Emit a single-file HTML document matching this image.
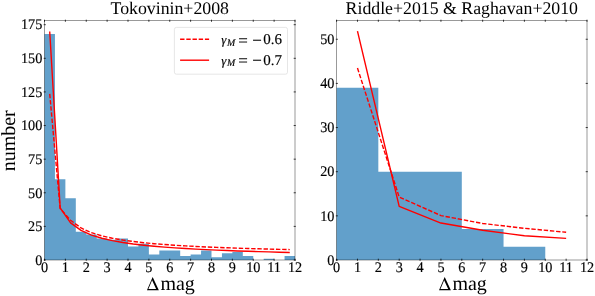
<!DOCTYPE html><html><head><meta charset="utf-8"><style>html,body{margin:0;padding:0;background:#fff;}svg{display:block}text{font-family:"Liberation Serif",serif;fill:#000;text-rendering:geometricPrecision}.t{filter:grayscale(1)}.t text{stroke:#000;stroke-width:0.16px}.t text.nb{stroke:none}</style></head><body>
<svg width="595" height="296" viewBox="0 0 595 296">
<rect x="0" y="0" width="595" height="296" fill="#fff"/>
<path d="M44.50,260.00V34.11H54.94V260.00ZM54.94,260.00V179.32H65.38V260.00ZM65.38,260.00V198.15H75.81V260.00ZM75.81,260.00V231.76H86.25V260.00ZM86.25,260.00V234.45H96.69V260.00ZM96.69,260.00V238.49H107.12V260.00ZM107.12,260.00V239.83H117.56V260.00ZM117.56,260.00V238.49H128.00V260.00ZM128.00,260.00V246.55H138.44V260.00ZM138.44,260.00V243.86H148.88V260.00ZM148.88,260.00V254.62H159.31V260.00ZM159.31,260.00V250.59H169.75V260.00ZM169.75,260.00V250.59H180.19V260.00ZM180.19,260.00V255.97H190.62V260.00ZM190.62,260.00V254.62H201.06V260.00ZM201.06,260.00V250.59H211.50V260.00ZM211.50,260.00V257.31H221.94V260.00ZM221.94,260.00V253.28H232.38V260.00ZM232.38,260.00V251.93H242.81V260.00ZM242.81,260.00V255.97H253.25V260.00ZM263.69,260.00V258.66H274.12V260.00ZM284.56,260.00V255.97H295.00V260.00Z" fill="#62a0cb"/>
<polyline points="49.72,93.89 60.16,208.58 70.59,220.25 81.03,227.97 91.47,232.68 101.91,235.89 112.34,238.24 122.78,240.06 133.22,241.50 143.66,242.69 154.09,243.68 164.53,244.52 174.97,245.25 185.41,245.88 195.84,246.44 206.28,246.94 216.72,247.39 227.16,247.79 237.59,248.16 248.03,248.50 258.47,248.80 268.91,249.09 279.34,249.35 289.78,249.59" fill="none" stroke="#ff0000" stroke-width="1.4" stroke-dasharray="4.4 1.8" stroke-linejoin="round"/>
<polyline points="49.72,31.58 60.16,207.78 70.59,222.85 81.03,230.40 91.47,235.06 101.91,238.28 112.34,240.66 122.78,242.50 133.22,243.98 143.66,245.20 154.09,246.23 164.53,247.10 174.97,247.86 185.41,248.53 195.84,249.12 206.28,249.64 216.72,250.12 227.16,250.54 237.59,250.93 248.03,251.29 258.47,251.62 268.91,251.92 279.34,252.20 289.78,252.46" fill="none" stroke="#ff0000" stroke-width="1.4" stroke-linejoin="round"/>
<rect x="44.50" y="20.50" width="250.50" height="239.50" fill="none" stroke="#000" stroke-opacity="0.72" stroke-width="0.55"/>
<path d="M44.50,258.70V260.80M44.50,19.70V21.80M65.38,258.70V260.80M65.38,19.70V21.80M86.25,258.70V260.80M86.25,19.70V21.80M107.12,258.70V260.80M107.12,19.70V21.80M128.00,258.70V260.80M128.00,19.70V21.80M148.88,258.70V260.80M148.88,19.70V21.80M169.75,258.70V260.80M169.75,19.70V21.80M190.62,258.70V260.80M190.62,19.70V21.80M211.50,258.70V260.80M211.50,19.70V21.80M232.38,258.70V260.80M232.38,19.70V21.80M253.25,258.70V260.80M253.25,19.70V21.80M274.12,258.70V260.80M274.12,19.70V21.80M295.00,258.70V260.80M295.00,19.70V21.80M43.70,260.00H45.80M293.70,260.00H295.80M43.70,226.38H45.80M293.70,226.38H295.80M43.70,192.77H45.80M293.70,192.77H295.80M43.70,159.16H45.80M293.70,159.16H295.80M43.70,125.54H45.80M293.70,125.54H295.80M43.70,91.93H45.80M293.70,91.93H295.80M43.70,58.31H45.80M293.70,58.31H295.80M43.70,24.69H45.80M293.70,24.69H295.80" stroke="#000" stroke-width="0.75" fill="none"/>
<path d="M146.95,290.30 152.65,277.00 158.85,290.30Z M152.10,280.32 156.12,288.95 148.40,288.95Z" fill="#000" fill-rule="evenodd"/>
<path d="M336.60,260.00V87.81H378.33V260.00ZM378.33,260.00V171.70H420.07V260.00ZM420.07,260.00V171.70H461.80V260.00ZM461.80,260.00V229.09H503.54V260.00ZM503.54,260.00V246.75H545.27V260.00Z" fill="#62a0cb"/>
<polyline points="357.47,68.05 399.20,197.15 440.94,215.59 482.67,223.49 524.40,228.32 566.14,232.28" fill="none" stroke="#ff0000" stroke-width="1.4" stroke-dasharray="4.4 1.8" stroke-linejoin="round"/>
<polyline points="357.47,31.17 399.20,206.37 440.94,223.05 482.67,230.30 524.40,235.79 566.14,238.42" fill="none" stroke="#ff0000" stroke-width="1.4" stroke-linejoin="round"/>
<rect x="336.60" y="20.50" width="250.40" height="239.50" fill="none" stroke="#000" stroke-opacity="0.72" stroke-width="0.55"/>
<path d="M336.60,258.70V260.80M336.60,19.70V21.80M357.47,258.70V260.80M357.47,19.70V21.80M378.33,258.70V260.80M378.33,19.70V21.80M399.20,258.70V260.80M399.20,19.70V21.80M420.07,258.70V260.80M420.07,19.70V21.80M440.94,258.70V260.80M440.94,19.70V21.80M461.80,258.70V260.80M461.80,19.70V21.80M482.67,258.70V260.80M482.67,19.70V21.80M503.54,258.70V260.80M503.54,19.70V21.80M524.40,258.70V260.80M524.40,19.70V21.80M545.27,258.70V260.80M545.27,19.70V21.80M566.14,258.70V260.80M566.14,19.70V21.80M587.00,258.70V260.80M587.00,19.70V21.80M335.80,260.00H337.90M585.70,260.00H587.80M335.80,215.85H337.90M585.70,215.85H587.80M335.80,171.70H337.90M585.70,171.70H587.80M335.80,127.55H337.90M585.70,127.55H587.80M335.80,83.40H337.90M585.70,83.40H587.80M335.80,39.25H337.90M585.70,39.25H587.80" stroke="#000" stroke-width="0.75" fill="none"/>
<path d="M439.00,290.30 444.70,277.00 450.90,290.30Z M444.15,280.32 448.17,288.95 440.45,288.95Z" fill="#000" fill-rule="evenodd"/>
<rect x="174.4" y="27.4" width="113.1" height="46.8" rx="2" ry="2" fill="#fff" fill-opacity="0.8" stroke="#e0e0e0" stroke-width="0.8"/>
<line x1="180.1" y1="39.2" x2="209.1" y2="39.2" stroke="#ff0000" stroke-width="1.4" stroke-dasharray="4.4 1.8"/>
<line x1="180.1" y1="60.2" x2="209.1" y2="60.2" stroke="#ff0000" stroke-width="1.4"/>
<g class="t"><text transform="translate(44.50,272) scale(0.97,1)" font-size="14.7" text-anchor="middle">0</text><text transform="translate(65.38,272) scale(0.97,1)" font-size="14.7" text-anchor="middle">1</text><text transform="translate(86.25,272) scale(0.97,1)" font-size="14.7" text-anchor="middle">2</text><text transform="translate(107.12,272) scale(0.97,1)" font-size="14.7" text-anchor="middle">3</text><text transform="translate(128.00,272) scale(0.97,1)" font-size="14.7" text-anchor="middle">4</text><text transform="translate(148.88,272) scale(0.97,1)" font-size="14.7" text-anchor="middle">5</text><text transform="translate(169.75,272) scale(0.97,1)" font-size="14.7" text-anchor="middle">6</text><text transform="translate(190.62,272) scale(0.97,1)" font-size="14.7" text-anchor="middle">7</text><text transform="translate(211.50,272) scale(0.97,1)" font-size="14.7" text-anchor="middle">8</text><text transform="translate(232.38,272) scale(0.97,1)" font-size="14.7" text-anchor="middle">9</text><text transform="translate(253.25,272) scale(0.97,1)" font-size="14.7" text-anchor="middle">10</text><text transform="translate(274.12,272) scale(0.97,1)" font-size="14.7" text-anchor="middle">11</text><text transform="translate(295.00,272) scale(0.97,1)" font-size="14.7" text-anchor="middle">12</text><text transform="translate(42.30,264.75) scale(0.97,1)" font-size="14.7" text-anchor="end">0</text><text transform="translate(42.30,231.13) scale(0.97,1)" font-size="14.7" text-anchor="end">25</text><text transform="translate(42.30,197.52) scale(0.97,1)" font-size="14.7" text-anchor="end">50</text><text transform="translate(42.30,163.91) scale(0.97,1)" font-size="14.7" text-anchor="end">75</text><text transform="translate(42.30,130.29) scale(0.97,1)" font-size="14.7" text-anchor="end">100</text><text transform="translate(42.30,96.68) scale(0.97,1)" font-size="14.7" text-anchor="end">125</text><text transform="translate(42.30,63.06) scale(0.97,1)" font-size="14.7" text-anchor="end">150</text><text transform="translate(42.30,29.44) scale(0.97,1)" font-size="14.7" text-anchor="end">175</text><text class="nb" x="169.75" y="13.6" font-size="17.8" text-anchor="middle">Tokovinin+2008</text><text class="nb" x="160.40" y="290.4" font-size="20">mag</text><text transform="translate(336.60,272) scale(0.97,1)" font-size="14.7" text-anchor="middle">0</text><text transform="translate(357.47,272) scale(0.97,1)" font-size="14.7" text-anchor="middle">1</text><text transform="translate(378.33,272) scale(0.97,1)" font-size="14.7" text-anchor="middle">2</text><text transform="translate(399.20,272) scale(0.97,1)" font-size="14.7" text-anchor="middle">3</text><text transform="translate(420.07,272) scale(0.97,1)" font-size="14.7" text-anchor="middle">4</text><text transform="translate(440.94,272) scale(0.97,1)" font-size="14.7" text-anchor="middle">5</text><text transform="translate(461.80,272) scale(0.97,1)" font-size="14.7" text-anchor="middle">6</text><text transform="translate(482.67,272) scale(0.97,1)" font-size="14.7" text-anchor="middle">7</text><text transform="translate(503.54,272) scale(0.97,1)" font-size="14.7" text-anchor="middle">8</text><text transform="translate(524.40,272) scale(0.97,1)" font-size="14.7" text-anchor="middle">9</text><text transform="translate(545.27,272) scale(0.97,1)" font-size="14.7" text-anchor="middle">10</text><text transform="translate(566.14,272) scale(0.97,1)" font-size="14.7" text-anchor="middle">11</text><text transform="translate(587.00,272) scale(0.97,1)" font-size="14.7" text-anchor="middle">12</text><text transform="translate(334.40,264.75) scale(0.97,1)" font-size="14.7" text-anchor="end">0</text><text transform="translate(334.40,220.60) scale(0.97,1)" font-size="14.7" text-anchor="end">10</text><text transform="translate(334.40,176.45) scale(0.97,1)" font-size="14.7" text-anchor="end">20</text><text transform="translate(334.40,132.30) scale(0.97,1)" font-size="14.7" text-anchor="end">30</text><text transform="translate(334.40,88.15) scale(0.97,1)" font-size="14.7" text-anchor="end">40</text><text transform="translate(334.40,44.00) scale(0.97,1)" font-size="14.7" text-anchor="end">50</text><text class="nb" x="461.80" y="13.6" font-size="17.8" text-anchor="middle">Riddle+2015 &amp; Raghavan+2010</text><text class="nb" x="452.45" y="290.4" font-size="20">mag</text><text class="nb" transform="translate(15.1,140.8) rotate(-90)" font-size="20" text-anchor="middle">number</text><text x="221.2" y="44.20" font-size="13" font-style="italic">γ</text><text x="227.0" y="45.60" font-size="9.8" font-style="italic">M</text><text x="238.35" y="45.90" font-size="17">=</text><text x="252.35" y="45.80" font-size="17">−</text><text transform="translate(263.3,44.30) scale(1,1)" font-size="15">0.6</text><text x="221.2" y="64.70" font-size="13" font-style="italic">γ</text><text x="227.0" y="66.10" font-size="9.8" font-style="italic">M</text><text x="238.35" y="66.40" font-size="17">=</text><text x="252.35" y="66.30" font-size="17">−</text><text transform="translate(263.3,64.80) scale(1,1)" font-size="15">0.7</text></g>
</svg></body></html>
